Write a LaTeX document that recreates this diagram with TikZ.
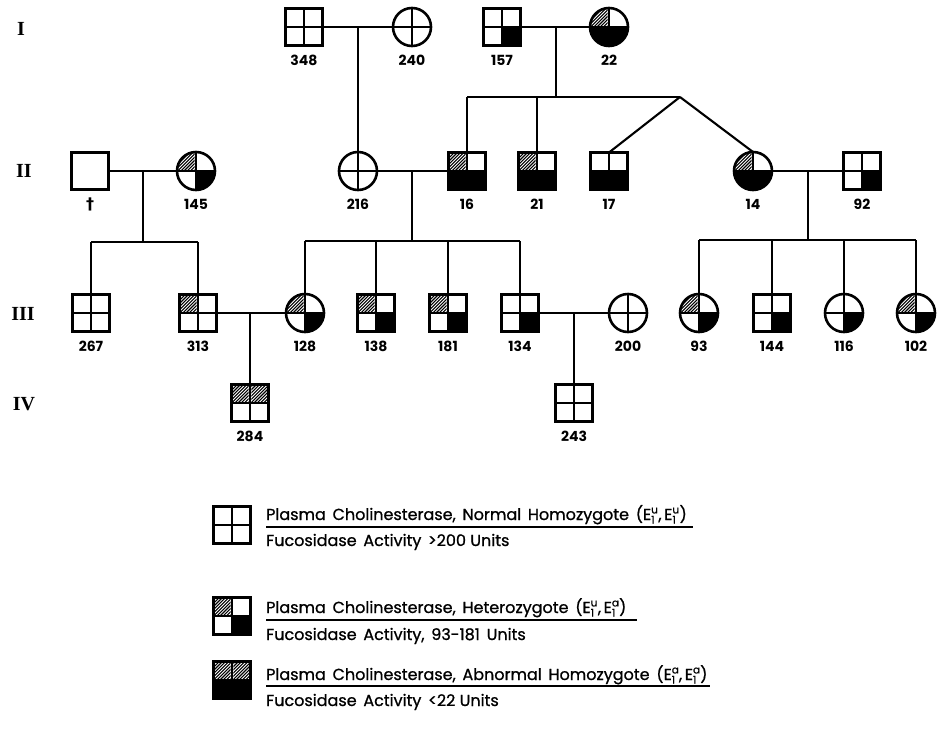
\documentclass[tikz,border=0pt]{standalone}
\usepackage{fontspec}
\setmainfont{Poppins}
\newfontfamily\legf[FakeBold=0.9]{Poppins}
\newfontfamily\romfont{Liberation Serif}
\newfontfamily\djv{DejaVu Sans}
\tikzset{
  sqn/.style={rectangle, minimum size=37pt, inner sep=0pt, outer sep=0pt},
  cin/.style={circle, minimum size=38pt, inner sep=0pt, outer sep=0pt},
  outl/.style={line width=2.6pt},
  divl/.style={line width=1.8pt},
  conn/.style={line width=2.1pt},
  hatchl/.style={line width=1.1pt},
  lab/.style={font=\bfseries\fontsize{14}{14}\selectfont, inner sep=0pt},
  gen/.style={font=\romfont\bfseries\fontsize{20}{20}\selectfont, inner sep=0pt},
  legt/.style={font=\legf\fontsize{16}{16}\selectfont, inner sep=0pt, anchor=base west},
  ul/.style={line width=1.6pt},
}
\newcommand\ws{\hspace{0.42em}}
\newcommand\pqw[2]{}
\newcommand\pqb[2]{\fill (0,0) rectangle (#1*20,#2*20);}
\newcommand\pqh[2]{\begin{scope}\clip (#1*1.3,#2*1.3) rectangle (#1*20,#2*20);%
  \foreach \k in {-44,-40.8,...,44}{\draw[hatchl] (\k-24,24) -- (\k+24,-24);}\end{scope}}
\newcommand\symlabel[2]{\if\relax\detokenize{#2}\relax\else\node[lab] (#1l) at (0,33) {#2};\fi}
% square: name, x, y, label, TL, TR, BL, BR
\newcommand\symS[8]{%
 \begin{scope}[shift={(#2,#3)}]
  \node[sqn] (#1) at (0,0) {};
  \begin{scope}\clip (-18.5,-18.5) rectangle (18.5,18.5);
   \csname pq#5\endcsname{-1}{-1}\csname pq#6\endcsname{1}{-1}%
   \csname pq#7\endcsname{-1}{1}\csname pq#8\endcsname{1}{1}%
  \end{scope}
  \draw[divl] (0,-18.5) -- (0,18.5) (-18.5,0) -- (18.5,0);
  \draw[outl] (-18.5,-18.5) rectangle (18.5,18.5);
  \symlabel{#1}{#4}
 \end{scope}}
% circle
\newcommand\symC[8]{%
 \begin{scope}[shift={(#2,#3)}]
  \node[cin] (#1) at (0,0) {};
  \begin{scope}\clip (0,0) circle[radius=19];
   \csname pq#5\endcsname{-1}{-1}\csname pq#6\endcsname{1}{-1}%
   \csname pq#7\endcsname{-1}{1}\csname pq#8\endcsname{1}{1}%
  \end{scope}
  \draw[divl] (0,-19) -- (0,19) (-19,0) -- (19,0);
  \draw[outl] (0,0) circle[radius=19];
  \symlabel{#1}{#4}
 \end{scope}}
\newcommand\Ea[1]{E\makebox[0.45em][l]{\rlap{\raisebox{0.75ex}{\fontsize{10.5}{10.5}\selectfont #1}}\raisebox{-0.4ex}{\fontsize{10.5}{10.5}\selectfont 1}}}
\begin{document}
\begin{tikzpicture}[x=1pt,y=-1pt]
\useasboundingbox (0,0) rectangle (937,737);
% generation labels
\node[gen] (gI) at (21,29) {I};
\node[gen] (gII) at (24,171) {II};
\node[gen] (gIII) at (23,314) {III};
\node[gen] (gIV) at (24,404) {IV};
% connectors
\coordinate (m1) at (358,27);
\coordinate (m2) at (556,27);
\coordinate (s2) at (556,97);
\coordinate (tw) at (680,97);
\coordinate (m3) at (143,171);
\coordinate (s3) at (143,242);
\coordinate (m4) at (412,171);
\coordinate (s4) at (412,241);
\coordinate (m5) at (808,171);
\coordinate (s5) at (808,240);
\coordinate (m6) at (250,313);
\coordinate (m7) at (574,313);
% Gen I
\symS{n348}{304}{27}{348}{w}{w}{w}{w}
\symC{n240}{412}{27}{240}{w}{w}{w}{w}
\symS{n157}{502}{27}{157}{w}{w}{w}{b}
\symC{n22}{609}{27}{22}{h}{w}{b}{b}
% Gen II
\begin{scope}[shift={(90,171)}]
 \node[sqn] (n1) at (0,0) {};
 \draw[outl] (-18.5,-18.5) rectangle (18.5,18.5);
 \node[font=\djv\bfseries\fontsize{16}{16}\selectfont, inner sep=0pt] (n1l) at (0,33) {†};
\end{scope}
\symC{n145}{196}{171}{145}{h}{w}{w}{b}
\symC{n216}{358}{171}{216}{w}{w}{w}{w}
\symS{n16}{467}{171}{16}{h}{w}{b}{b}
\symS{n21}{537}{171}{21}{h}{w}{b}{b}
\symS{n17}{609}{171}{17}{w}{w}{b}{b}
\symC{n14}{753}{171}{14}{h}{w}{b}{b}
\symS{n92}{862}{171}{92}{w}{w}{w}{b}
% Gen III
\symS{n267}{91}{313}{267}{w}{w}{w}{w}
\symS{n313}{198}{313}{313}{h}{w}{w}{w}
\symC{n128}{305}{313}{128}{h}{w}{w}{b}
\symS{n138}{376}{313}{138}{h}{w}{w}{b}
\symS{n181}{448}{313}{181}{h}{w}{w}{b}
\symS{n134}{520}{313}{134}{w}{w}{w}{b}
\symC{n200}{628}{313}{200}{w}{w}{w}{w}
\symC{n93}{699}{313}{93}{h}{w}{w}{b}
\symS{n144}{772}{313}{144}{w}{w}{w}{b}
\symC{n116}{844}{313}{116}{w}{w}{w}{b}
\symC{n102}{916}{313}{102}{h}{w}{w}{b}
% Gen IV
\symS{n284}{250}{403}{284}{h}{h}{w}{w}
\symS{n243}{574}{403}{243}{w}{w}{w}{w}
% lines
\draw[conn] (n348.east) -- (n240.west);
\draw[conn] (m1) -- (n216.north);
\draw[conn] (n157.east) -- (n22.west);
\draw[conn] (m2) -- (s2);
\draw[conn] (n16.north |- s2) -- (tw);
\draw[conn] (n16.north |- s2) -- (n16.north);
\draw[conn] (n21.north |- s2) -- (n21.north);
\draw[conn] (tw) -- (n17.north);
\draw[conn] (tw) -- (n14.north);
\draw[conn] (n1.east) -- (n145.west);
\draw[conn] (m3) -- (s3);
\draw[conn] (n267.north |- s3) -- (n313.north |- s3);
\draw[conn] (n267.north |- s3) -- (n267.north);
\draw[conn] (n313.north |- s3) -- (n313.north);
\draw[conn] (n216.east) -- (n16.west);
\draw[conn] (m4) -- (s4);
\draw[conn] (n128.north |- s4) -- (n134.north |- s4);
\foreach \c in {n128,n138,n181,n134}{\draw[conn] (\c.north |- s4) -- (\c.north);}
\draw[conn] (n14.east) -- (n92.west);
\draw[conn] (m5) -- (s5);
\draw[conn] (n93.north |- s5) -- (n102.north |- s5);
\foreach \c in {n93,n144,n116,n102}{\draw[conn] (\c.north |- s5) -- (\c.north);}
\draw[conn] (n313.east) -- (n128.west);
\draw[conn] (m6) -- (n284.north);
\draw[conn] (n134.east) -- (n200.west);
\draw[conn] (m7) -- (n243.north);
% legend
\symS{lg1}{232}{525}{}{w}{w}{w}{w}
\symS{lg2}{232}{616}{}{h}{w}{w}{b}
\symS{lg3}{232}{680}{}{h}{h}{b}{b}
\node[legt] (t1a) at (266,520) {Plasma\ws Cholinesterase,\ws Normal\ws Homozygote\ws (\Ea{u},\,\Ea{u})};
\draw[ul] (266,527) -- (693,527);
\node[legt] (t1b) at (266,546) {Fucosidase\ws Activity\ws >200 Units};
\node[legt] (t2a) at (266,613) {Plasma\ws Cholinesterase,\ws Heterozygote\ws (\Ea{u},\,\Ea{a})};
\draw[ul] (266,620) -- (637,620);
\node[legt] (t2b) at (266,640) {Fucosidase\ws Activity,\ws 93-181\ws Units};
\node[legt] (t3a) at (266,680) {Plasma\ws Cholinesterase,\ws Abnormal\ws Homozygote\ws (\Ea{a},\,\Ea{a})};
\draw[ul] (266,686) -- (710,686);
\node[legt] (t3b) at (266,706) {Fucosidase\ws Activity\ws <22 Units};
\end{tikzpicture}
\end{document}
